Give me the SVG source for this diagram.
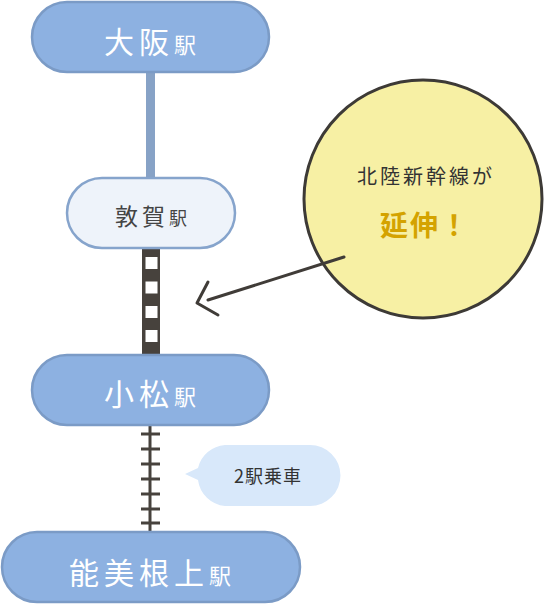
<svg xmlns="http://www.w3.org/2000/svg" width="544" height="604" viewBox="0 0 544 604">
<style>
.main{fill:#8db1e1;stroke:#7b9bc6;stroke-width:2.5}
.sub{fill:#eef3fa;stroke:#86a4cc;stroke-width:2.5}
.t{font-family:"Noto Sans CJK JP","Noto Sans",sans-serif;text-anchor:middle}
.w{fill:#ffffff}
.d{fill:#444444}
.big{font-size:30px;letter-spacing:5px}
.big tspan{font-size:22px;letter-spacing:0}
.tie{stroke:#47423d;stroke-width:3}
</style>
<g id="connectors">
<rect x="146" y="70" width="9" height="110" fill="#87a2c6"/>
<rect x="142" y="247" width="18" height="110" fill="#47423d"/>
<g fill="#ffffff">
<rect x="145.5" y="257" width="12" height="12"/>
<rect x="145.5" y="281.5" width="12" height="12"/>
<rect x="145.5" y="306" width="12" height="12"/>
<rect x="145.5" y="330" width="12" height="12"/>
</g>
<line x1="150" y1="424" x2="150" y2="534" class="tie"/>
<g class="tie">
<line x1="141" y1="434" x2="160" y2="434"/>
<line x1="141" y1="449" x2="160" y2="449"/>
<line x1="141" y1="464" x2="160" y2="464"/>
<line x1="141" y1="479" x2="160" y2="479"/>
<line x1="141" y1="494" x2="160" y2="494"/>
<line x1="141" y1="509" x2="160" y2="509"/>
<line x1="141" y1="523" x2="160" y2="523"/>
</g>
</g>
<g id="osaka">
<rect x="32" y="2" width="237" height="70" rx="35" class="main"/>
<text x="150" y="53" class="t w big">大阪<tspan>駅</tspan></text>
</g>
<g id="tsuruga">
<rect x="67" y="178" width="168" height="70" rx="35" class="sub"/>
<text x="151" y="225" class="t d" font-size="23" letter-spacing="4">敦賀<tspan font-size="18" letter-spacing="0">駅</tspan></text>
</g>
<g id="komatsu">
<rect x="32" y="355" width="237" height="70" rx="35" class="main"/>
<text x="150" y="405" class="t w big">小松<tspan>駅</tspan></text>
</g>
<g id="nomineagari">
<rect x="2" y="532" width="298" height="70" rx="35" class="main"/>
<text x="150" y="584" class="t w big">能美根上<tspan>駅</tspan></text>
</g>
<g id="callout">
<circle cx="423" cy="199" r="119" fill="#f7f0a4" stroke="#3d3a36" stroke-width="3"/>
<text x="426" y="184" class="t" fill="#333333" font-size="20" letter-spacing="3">北陸新幹線が</text>
<text x="425" y="236" class="t" fill="#d4a300" font-size="28" font-weight="bold" letter-spacing="2">延伸！</text>
<g fill="none" stroke="#403c38" stroke-width="3" stroke-linecap="round" stroke-linejoin="round">
<line x1="344" y1="257" x2="208" y2="300"/>
<polyline points="208,282 197,303 218,315"/>
</g>
</g>
<g id="bubble">
<path d="M225,445 H310 A30,30 0 0 1 310,506 H225 A30,30 0 0 1 198,480 L185,474 L198,468 A30,30 0 0 1 225,445 Z" fill="#d8e8fa"/>
<text x="268" y="483" class="t" fill="#333333" font-size="18" letter-spacing="1">2駅乗車</text>
</g>
</svg>
